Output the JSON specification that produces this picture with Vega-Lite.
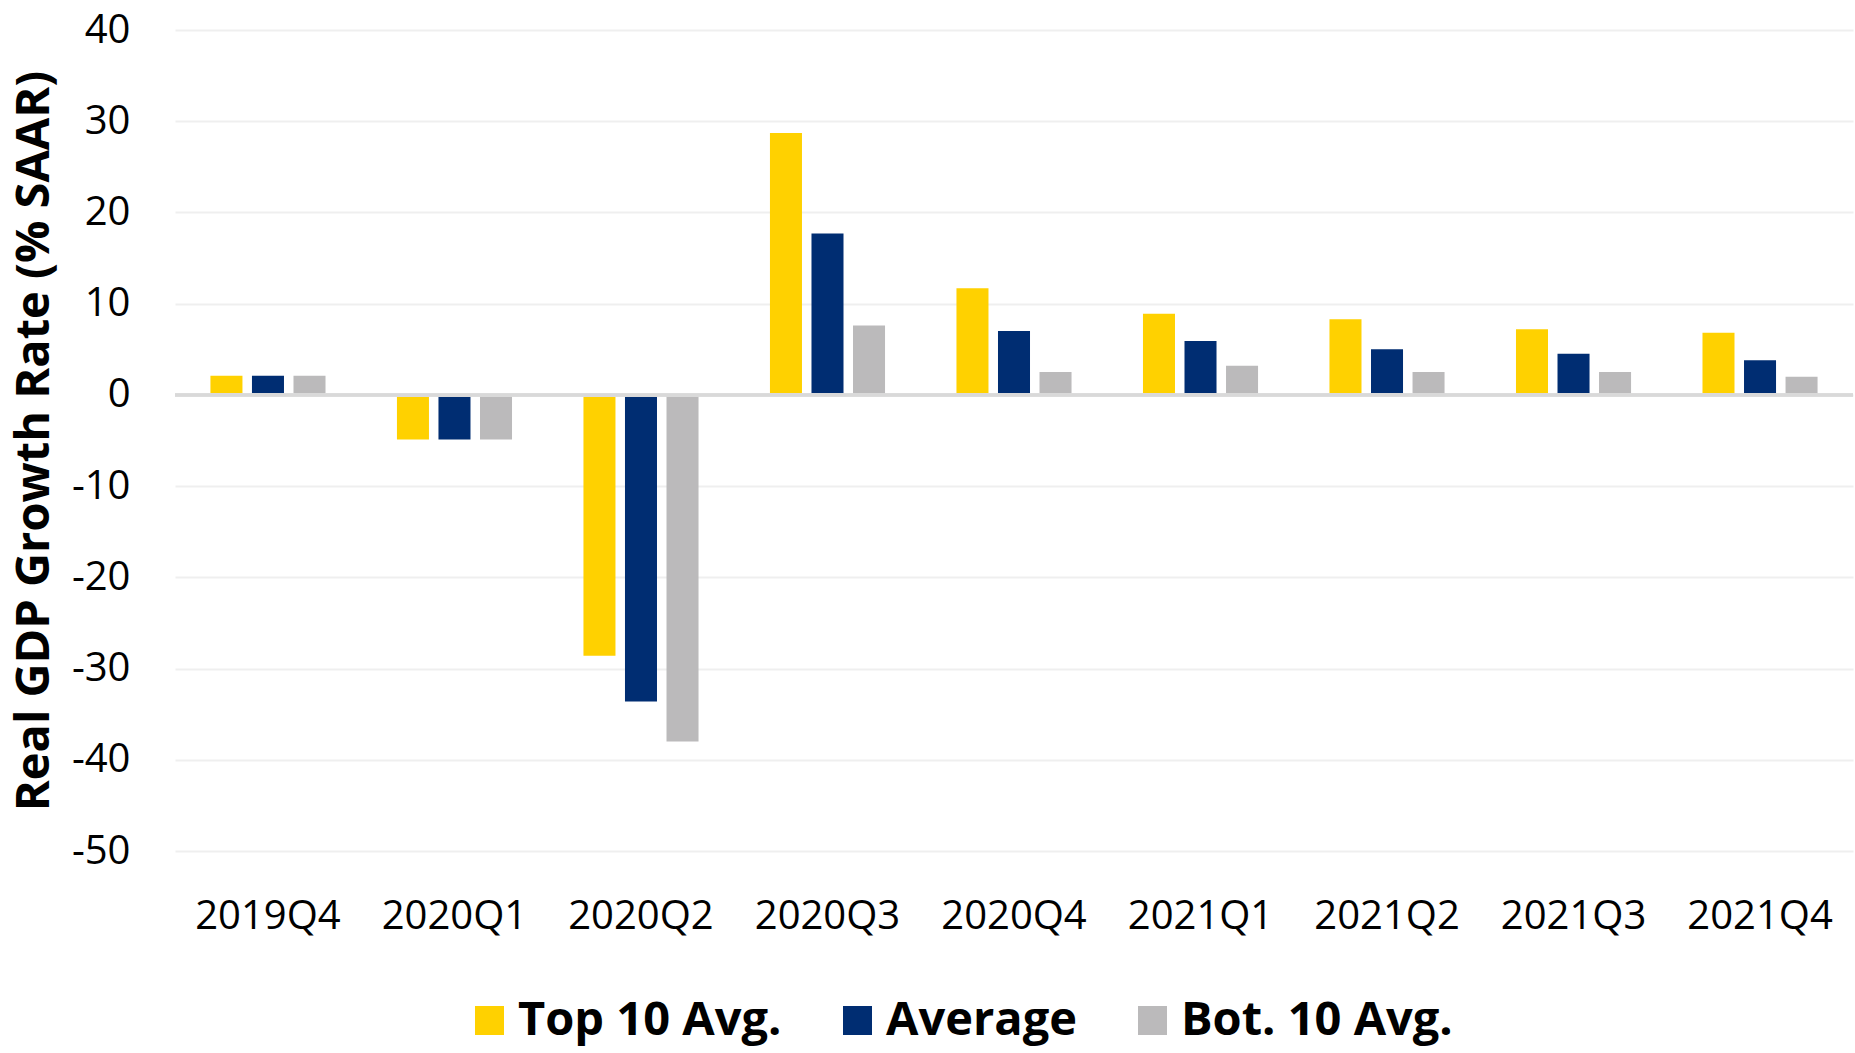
{
  "$schema": "https://vega.github.io/schema/vega-lite/v6.json",
  "autosize": "none",
  "width": 1678,
  "height": 821,
  "padding": {"left": 175, "top": 30, "right": 2, "bottom": 202},
  "background": "white",
  "config": {
    "font": "Open Sans",
    "view": {"stroke": null}
  },
  "data": {
    "values": [
      {"quarter": "2019Q4", "series": "Top 10 Avg.", "value": 2.1},
      {"quarter": "2019Q4", "series": "Average", "value": 2.1},
      {"quarter": "2019Q4", "series": "Bot. 10 Avg.", "value": 2.1},
      {"quarter": "2020Q1", "series": "Top 10 Avg.", "value": -4.9},
      {"quarter": "2020Q1", "series": "Average", "value": -4.9},
      {"quarter": "2020Q1", "series": "Bot. 10 Avg.", "value": -4.9},
      {"quarter": "2020Q2", "series": "Top 10 Avg.", "value": -28.6},
      {"quarter": "2020Q2", "series": "Average", "value": -33.6},
      {"quarter": "2020Q2", "series": "Bot. 10 Avg.", "value": -38.0},
      {"quarter": "2020Q3", "series": "Top 10 Avg.", "value": 28.7},
      {"quarter": "2020Q3", "series": "Average", "value": 17.7},
      {"quarter": "2020Q3", "series": "Bot. 10 Avg.", "value": 7.6},
      {"quarter": "2020Q4", "series": "Top 10 Avg.", "value": 11.7},
      {"quarter": "2020Q4", "series": "Average", "value": 7.0},
      {"quarter": "2020Q4", "series": "Bot. 10 Avg.", "value": 2.5},
      {"quarter": "2021Q1", "series": "Top 10 Avg.", "value": 8.9},
      {"quarter": "2021Q1", "series": "Average", "value": 5.9},
      {"quarter": "2021Q1", "series": "Bot. 10 Avg.", "value": 3.2},
      {"quarter": "2021Q2", "series": "Top 10 Avg.", "value": 8.3},
      {"quarter": "2021Q2", "series": "Average", "value": 5.0},
      {"quarter": "2021Q2", "series": "Bot. 10 Avg.", "value": 2.5},
      {"quarter": "2021Q3", "series": "Top 10 Avg.", "value": 7.2},
      {"quarter": "2021Q3", "series": "Average", "value": 4.5},
      {"quarter": "2021Q3", "series": "Bot. 10 Avg.", "value": 2.5},
      {"quarter": "2021Q4", "series": "Top 10 Avg.", "value": 6.8},
      {"quarter": "2021Q4", "series": "Average", "value": 3.8},
      {"quarter": "2021Q4", "series": "Bot. 10 Avg.", "value": 2.0}
    ]
  },
  "layer": [
    {
      "mark": {"type": "bar"},
      "encoding": {
        "x": {
          "field": "quarter",
          "type": "nominal",
          "sort": null,
          "scale": {"paddingInner": 0.383, "paddingOuter": 0.19},
          "axis": {
            "title": null,
            "domain": false,
            "ticks": false,
            "labelAngle": 0,
            "labelFontSize": 40,
            "labelColor": "#000000",
            "labelPadding": 45,
            "grid": false
          }
        },
        "xOffset": {
          "field": "series",
          "type": "nominal",
          "sort": ["Top 10 Avg.", "Average", "Bot. 10 Avg."],
          "scale": {"paddingInner": 0.229, "paddingOuter": 0}
        },
        "y": {
          "field": "value",
          "type": "quantitative",
          "scale": {"domain": [-50, 40], "nice": false, "zero": false},
          "axis": {
            "title": "Real GDP Growth Rate (% SAAR)",
            "titleFontSize": 47,
            "titleFontWeight": "bold",
            "titleColor": "#000000",
            "titlePadding": 13,
            "values": [-50, -40, -30, -20, -10, 0, 10, 20, 30, 40],
            "labelExpr": "toString(datum.value)",
            "domain": false,
            "ticks": false,
            "labelFontSize": 40,
            "labelColor": "#000000",
            "labelPadding": 45,
            "gridColor": "#efefef",
            "gridWidth": 2
          }
        },
        "color": {
          "field": "series",
          "type": "nominal",
          "sort": ["Top 10 Avg.", "Average", "Bot. 10 Avg."],
          "scale": {
            "domain": ["Top 10 Avg.", "Average", "Bot. 10 Avg."],
            "range": ["#FFD100", "#002D72", "#BBBABB"]
          },
          "legend": {
            "title": null,
            "orient": "none",
            "direction": "horizontal",
            "legendX": 291,
            "legendY": 967,
            "symbolType": "square",
            "symbolSize": 841,
            "symbolStrokeWidth": 0,
            "labelFontSize": 47,
            "labelFontWeight": "bold",
            "labelColor": "#000000",
            "labelOffset": 5,
            "columnPadding": 52,
            "gridAlign": "none",
            "labelLimit": 600
          }
        }
      }
    },
    {
      "mark": {"type": "rule", "color": "#d9d9d9", "strokeWidth": 2.5},
      "encoding": {"y": {"datum": 0}}
    }
  ]
}
